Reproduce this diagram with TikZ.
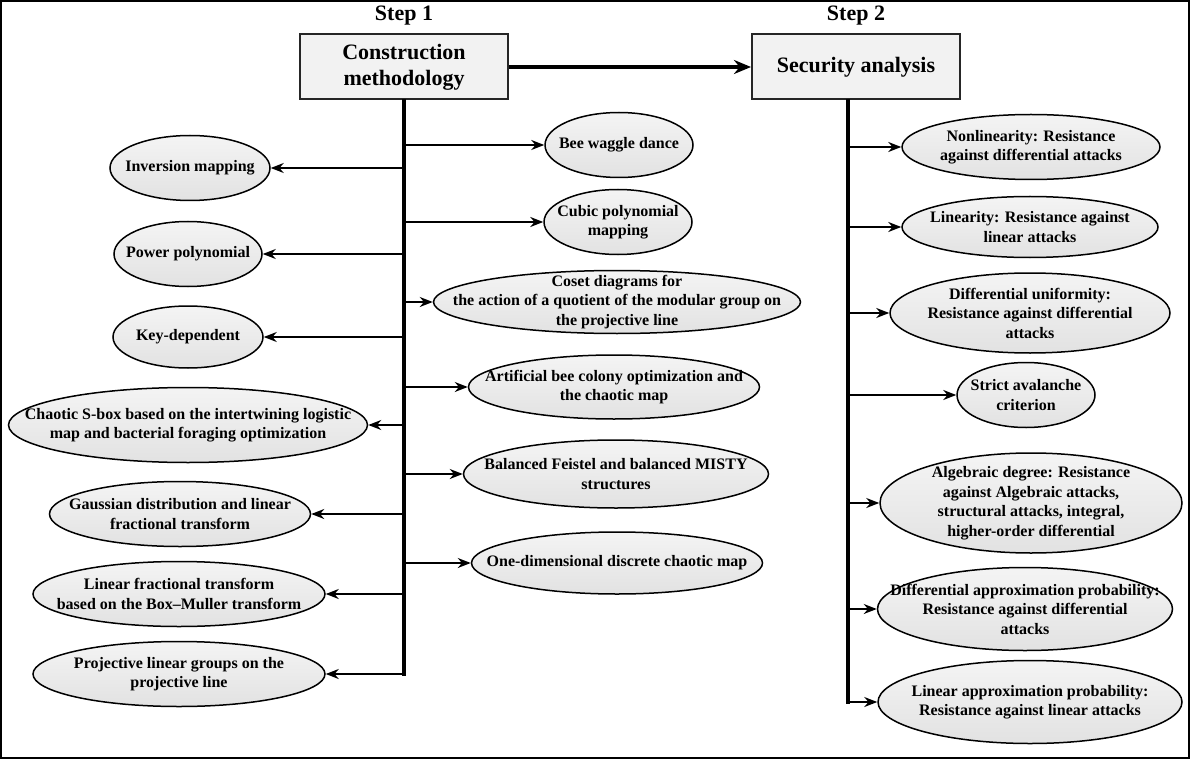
\documentclass[tikz,border=0pt]{standalone}
\usepackage{fontspec}
\setmainfont{Liberation Serif}
\usetikzlibrary{arrows.meta,shapes.geometric}
\definecolor{boxfill}{HTML}{F2F2F2}
\definecolor{elltop}{HTML}{F4F4F4}
\definecolor{ellbot}{HTML}{E2E2E2}
\begin{document}
\begin{tikzpicture}[x=1pt,y=-1pt,
  ell/.style 2 args={ellipse,draw=black,line width=1.5pt,top color=elltop,bottom color=ellbot,minimum width=#1pt,minimum height=#2pt,inner sep=0pt},
  txt/.style={font=\bfseries\fontsize{16}{19.5}\selectfont,align=center,inner sep=0pt},
  br/.style={line width=1.7pt,-{Stealth[length=13pt,width=10pt]}},
  mainbox/.style={draw=black!85,line width=2pt,fill=boxfill,minimum width=208pt,minimum height=65pt,font=\bfseries\fontsize{22}{26}\selectfont,align=center,inner sep=0pt},
  spine/.style={line width=3.5pt,line cap=rect},
  steplabel/.style={font=\bfseries\fontsize{22}{26}\selectfont,inner sep=0pt}]
\useasboundingbox (0,0) rectangle (1190,759);
\draw[line width=2pt] (1,1) rectangle (1189,758);

% titles
\node[steplabel] (s1) at (404,16) {Step 1};
\node[steplabel] (s2) at (856,16) {Step 2};
\node[mainbox] (cons) at (404,67) {Construction\\methodology};
\node[mainbox] (sec) at (856,67) {Security analysis};
\draw[line width=3.5pt,-{Stealth[length=17pt,width=14pt]}] (cons) -- (sec);

% left-side ellipses
\node[ell={160}{65}] (inv) at (190,168) {};
\node[txt] at (inv) {Inversion mapping};
\node[ell={148}{65}] (pow) at (188,254) {};
\node[txt] at (pow) {Power polynomial};
\node[ell={150}{62}] (key) at (188,337) {};
\node[txt] at (key) {Key-dependent};
\node[ell={359}{75}] (cha) at (188,425) {};
\node[txt] at (cha) {Chaotic S-box based on the intertwining logistic\\map and bacterial foraging optimization};
\node[ell={261}{65}] (gau) at (180,514) {};
\node[txt] at (gau) {Gaussian distribution and linear\\fractional transform};
\node[ell={292}{65}] (lft) at (179,594) {};
\node[txt] at (lft) {Linear fractional transform\\based on the Box--Muller transform};
\node[ell={292}{65}] (prj) at (179,674) {};
\node[txt] at (prj) {Projective linear groups on the\\projective line};

% middle ellipses
\node[ell={148}{65}] (bee) at (619,145) {};
\node[txt] at (bee) {Bee waggle dance};
\node[ell={148}{65}] (cub) at (618,222) {};
\node[txt] at (cub) {Cubic polynomial\\mapping};
\node[ell={367}{63}] (cos) at (617,302) {};
\node[txt] at (cos) {Coset diagrams for\\the action of a quotient of the modular group on\\the projective line};
\node[ell={291}{64}] (abc) at (614,387) {};
\node[txt] at (abc) {Artificial bee colony optimization and\\the chaotic map};
\node[ell={305}{68}] (bal) at (616,474) {};
\node[txt] at (bal) {Balanced Feistel and balanced MISTY\\structures};
\node[ell={291}{62}] (one) at (617,563) {};
\node[txt] at (one) {One-dimensional discrete chaotic map};

% right ellipses
\node[ell={258}{65}] (non) at (1031,147) {};
\node[txt] at (non) {Nonlinearity: Resistance\\against differential attacks};
\node[ell={256}{61}] (lin) at (1030,227) {};
\node[txt] at (lin) {Linearity: Resistance against\\linear attacks};
\node[ell={280}{80}] (du) at (1030,313) {};
\node[txt] at (du) {Differential uniformity:\\Resistance against differential\\attacks};
\node[ell={138}{65}] (sac) at (1026,395) {};
\node[txt] at (sac) {Strict avalanche\\criterion};
\node[ell={302}{100}] (alg) at (1031,503) {};
\node[txt] at (alg) {Algebraic degree: Resistance\\against Algebraic attacks,\\structural attacks, integral,\\higher-order differential};
\node[ell={295}{83}] (dap) at (1025,609) {};
\node[txt] at (dap) {Differential approximation probability:\\Resistance against differential\\attacks};
\node[ell={304}{83}] (lap) at (1030,702) {};
\node[txt] at (lap) {Linear approximation probability:\\Resistance against linear attacks};

% spines
\coordinate (rx) at (848,0);
\coordinate (lbot) at (cons.south |- prj);
\coordinate (rtop) at (sec.south -| rx);
\coordinate (rbot) at (rx |- lap);
\draw[spine] (cons.south) -- (lbot);
\draw[spine] (rtop) -- (rbot);

% branches
\foreach \n in {inv,pow,key,cha,gau,lft,prj,bee,cub,cos,abc,bal,one}
  \draw[br] (cons.south |- \n) -- (\n);
\foreach \n in {non,lin,du,sac,alg,dap,lap}
  \draw[br] (rx |- \n) -- (\n);
\end{tikzpicture}
\end{document}
